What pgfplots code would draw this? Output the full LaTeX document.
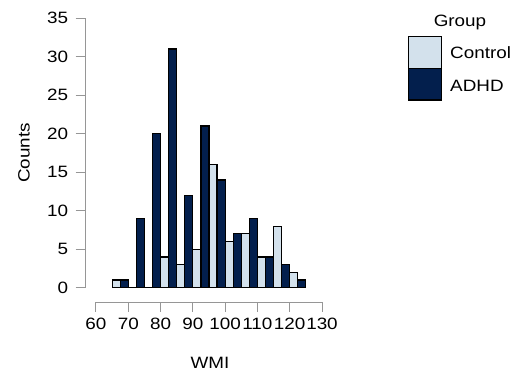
\documentclass[border=0pt]{standalone}
\usepackage{fontspec}
\setmainfont{Liberation Sans}[FakeStretch=1.15]
\usepackage{pgfplots}
\pgfplotsset{compat=1.18}
\definecolor{ctrl}{RGB}{211,225,236}
\definecolor{adhd}{RGB}{3,31,77}
\definecolor{axgray}{RGB}{150,150,150}
\newcommand{\chfont}{\fontsize{16.4}{19}\selectfont}
\begin{document}
\begin{tikzpicture}[x=1pt,y=1pt]
\useasboundingbox (0,0) rectangle (517,-376);
\begin{axis}[
  at={(85pt,-302pt)}, anchor=south west,
  scale only axis, width=237pt, height=283.7pt,
  xmin=56.6, xmax=130, ymin=-1.86, ymax=35,
  axis line style={draw=none},
  xtick={60,70,...,130}, ytick={0,5,...,35},
  xtick pos=bottom, ytick pos=left, tick align=outside,
  major tick length=9.5pt,
  tick style={axgray, line width=1pt},
  tick label style={font=\chfont},
  /pgf/number format/assume math mode=true,
  xticklabel style={yshift=-3.5pt},
  yticklabel style={xshift=-3.8pt},
  clip=false,
]
\draw[axgray, line width=1pt] (axis cs:60,-1.86) -- (axis cs:130,-1.86);
\draw[axgray, line width=1pt] (axis cs:56.6,0) -- (axis cs:56.6,35);
\addplot[ybar, bar width=2.5, bar shift=0pt, fill=ctrl, draw=black, line width=1.2pt] coordinates {
 (66.25,1) (71.25,0) (76.25,0) (81.25,4) (86.25,3) (91.25,5) (96.25,16) (101.25,6) (106.25,7) (111.25,4) (116.25,8) (121.25,2)
};
\addplot[ybar, bar width=2.5, bar shift=0pt, fill=adhd, draw=black, line width=1.2pt] coordinates {
 (68.75,1) (73.75,9) (78.75,20) (83.75,31) (88.75,12) (93.75,21) (98.75,14) (103.75,7) (108.75,9) (113.75,4) (118.75,3) (123.75,1)
};
\node[rotate=90, font=\chfont] at (axis cs:37.7,17.5) {Counts};
\node[font=\chfont] at (axis cs:95.3,-9.78) {WMI};
\end{axis}
\node[anchor=base, font=\chfont] at (460,-26.3) {Group};
\draw[fill=ctrl, line width=1.5pt] (408.3,-36.7) rectangle (441.7,-68.3);
\draw[fill=adhd, line width=1.5pt] (408.3,-68.3) rectangle (441.7,-100);
\node[anchor=base west, inner sep=0pt, font=\chfont] at (450,-58.3) {Control};
\node[anchor=base west, inner sep=0pt, font=\chfont] at (450,-91.7) {ADHD};
\end{tikzpicture}
\end{document}
